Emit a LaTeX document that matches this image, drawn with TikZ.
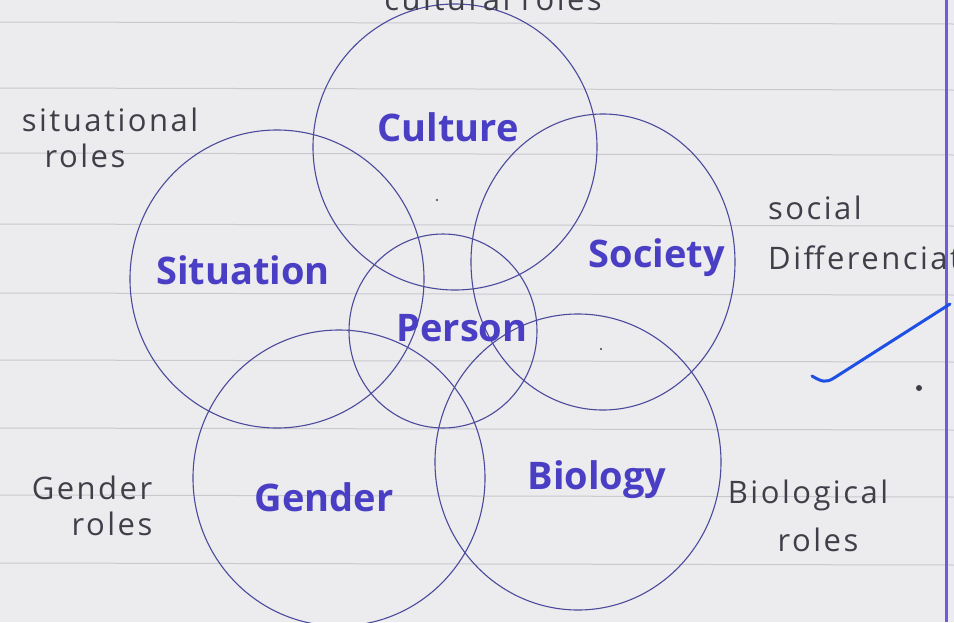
\documentclass[tikz,border=0pt]{standalone}
\usepackage{fontspec}
\setmainfont{Open Sans}
\newfontfamily\notefont{Open Sans}
\newfontfamily\sidefont[LetterSpace=8]{Open Sans}
\definecolor{paper}{HTML}{ECECEE}
\definecolor{rule}{HTML}{C9C9CF}
\definecolor{ink}{HTML}{4B4A9C}
\definecolor{word}{HTML}{4A3FC4}
\definecolor{pencil}{HTML}{3F3F4A}
\definecolor{margin}{HTML}{6B5CE0}
\definecolor{tick}{HTML}{1E50E6}
\tikzset{
  ring/.style={draw=ink, line width=1.1pt},
  bigword/.style={text=word, font=\notefont\bfseries\fontsize{38}{38}\selectfont},
  sideword/.style={text=pencil, font=\sidefont\fontsize{31}{32}\selectfont, inner sep=0pt},
  ruleline/.style={draw=rule, line width=1pt},
}
\begin{document}
\begin{tikzpicture}[x=1pt,y=-1pt]
\useasboundingbox (0,0) rectangle (954,622);
\clip (0,0) rectangle (954,622);
\fill[paper] (0,0) rectangle (954,622);
% ruled lines
\foreach \yy in {22,88,153,224,293,360,428,495,563} {
  \draw[ruleline] (0,\yy) -- (954,\yy+2);
}
% margin line
\draw[margin, line width=3pt] (946,0) -- (946,622);
% circles
\draw[ring] (455,147) ellipse [x radius=142, y radius=143];
\draw[ring] (277,279) ellipse [x radius=147, y radius=149];
\draw[ring] (603,262) ellipse [x radius=132, y radius=148];
\draw[ring] (443,331) ellipse [x radius=94, y radius=97];
\draw[ring] (339,478) ellipse [x radius=146, y radius=148];
\draw[ring] (578,462) ellipse [x radius=143, y radius=148];
% big words
\node[bigword] (culture) at (448,127) {Culture};
\node[bigword] (situation) at (243,270) {Situation};
\node[bigword] (society) at (657,258) {Society};
\node[bigword] (person) at (462,328) {Person};
\node[bigword] (gender) at (324,497) {Gender};
\node[bigword] (biology) at (597,480) {Biology};
% side labels
\node[sideword] (sit1) at (110,120) {situational};
\node[sideword] (sit2) at (85,156) {roles};
\node[sideword] (soc1) at (815,208) {social};
\node[sideword, anchor=west] (soc2) at (768,258) {Differenciation};
\node[sideword] (gen1) at (92,488) {Gender};
\node[sideword] (gen2) at (112,524) {roles};
\node[sideword] (bio1) at (808,495) {Biological};
\node[sideword] (bio2) at (818,540) {roles};
\node[sideword, anchor=base east] (cul1) at (602,10) {cultural roles};
% blue tick stroke
\coordinate (t1) at (812,376);
\coordinate (t2) at (950,304);
\draw[tick, line width=3pt, line cap=round] (t1) .. controls (822,382) and (826,383) .. (834,378) -- (t2);
% pen dots
\fill[pencil] (919,388) circle (3);
\fill[pencil] (437,200) circle (1.2);
\fill[pencil] (601,349) circle (1.2);
\end{tikzpicture}
\end{document}
